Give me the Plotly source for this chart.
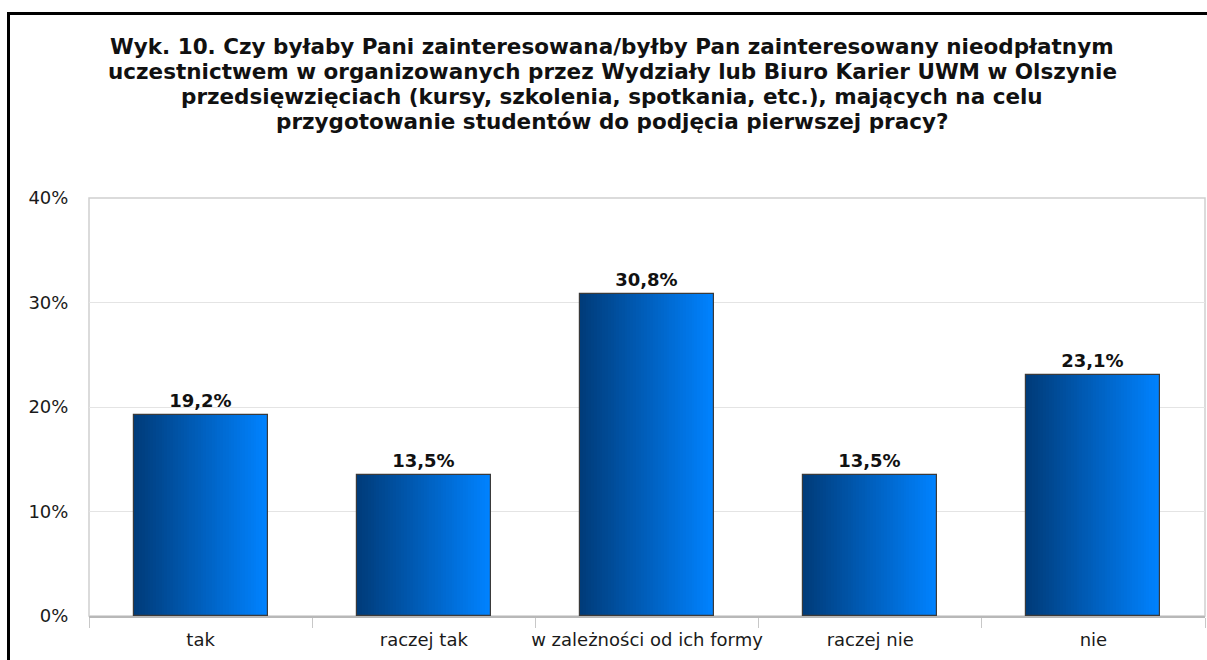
import plotly.graph_objects as go

categories = ["tak", "raczej tak", "w zależności od ich formy", "raczej nie", "nie"]
values = [19.2, 13.5, 30.8, 13.5, 23.1]
value_labels = ["19,2%", "13,5%", "30,8%", "13,5%", "23,1%"]
y_ticks = [0, 10, 20, 30, 40]
title_lines = [
    "Wyk. 10. Czy byłaby Pani zainteresowana/byłby Pan zainteresowany nieodpłatnym",
    "uczestnictwem w organizowanych przez Wydziały lub Biuro Karier UWM w Olszynie",
    "przedsięwzięciach (kursy, szkolenia, spotkania, etc.), mających na celu",
    "przygotowanie studentów do podjęcia pierwszej pracy?",
]

W, H = 1207, 660
L, R, T, B = 89, 2, 198, 44
pw, ph = W - L - R, H - T - B
FONT = "DejaVu Sans, Verdana, sans-serif"

bar_w = 0.6
n_slices = 48
c0 = (0, 60, 122)
c1 = (0, 130, 255)

fig = go.Figure()
step = bar_w / n_slices
for i in range(n_slices):
    f = i / (n_slices - 1)
    col = "rgb({},{},{})".format(*[round(a + (b - a) * f) for a, b in zip(c0, c1)])
    fig.add_trace(go.Bar(
        x=categories, y=values,
        width=step * 1.6 if i < n_slices - 1 else step,
        offset=-bar_w / 2 + i * step,
        marker=dict(color=col, line=dict(width=0)),
        hoverinfo="skip", showlegend=False,
    ))

fig.add_trace(go.Bar(
    x=categories, y=values, width=bar_w, offset=-bar_w / 2,
    marker=dict(color="rgba(0,0,0,0)", line=dict(color="#3a3a3a", width=1.2)),
    text=value_labels, textposition="outside", cliponaxis=False,
    textfont=dict(family=FONT, size=18, color="#111"),
    texttemplate="<b>%{text}</b>",
    showlegend=False,
))

def px_x(px):
    return (px - L) / pw

def px_y(py):
    return (H - B - py) / ph

shapes = [
    dict(type="line", xref="paper", yref="paper", x0=px_x(7), x1=px_x(1210),
         y0=px_y(13.5), y1=px_y(13.5), line=dict(color="black", width=3)),
    dict(type="line", xref="paper", yref="paper", x0=px_x(8.5), x1=px_x(8.5),
         y0=px_y(12), y1=px_y(665), line=dict(color="black", width=3)),
    dict(type="rect", xref="paper", yref="paper", x0=0, x1=1, y0=0, y1=1,
         line=dict(color="#d0d0d0", width=1.5), layer="below"),
]

annotations = []
line_y0 = 46
for k, line in enumerate(title_lines):
    annotations.append(dict(
        text="<b>" + line + "</b>", xref="paper", yref="paper",
        x=px_x(612), y=px_y(line_y0 + 25.3 * k), xanchor="center", yanchor="middle",
        showarrow=False,
        font=dict(family=FONT, size=21.5, color="#111"),
    ))

fig.update_layout(
    width=W, height=H, autosize=False,
    margin=dict(l=L, r=R, t=T, b=B, pad=0, autoexpand=False),
    paper_bgcolor="white", plot_bgcolor="white",
    barmode="overlay", bargap=0,
    shapes=shapes, annotations=annotations,
    font=dict(family=FONT, size=18, color="#222"),
    xaxis=dict(
        type="category", categoryorder="array", categoryarray=categories,
        tickson="boundaries", ticks="outside", ticklen=10, tickcolor="#c8c8c8",
        showline=True, linecolor="#b8b8b8", linewidth=1.5,
        showgrid=False, tickfont=dict(family=FONT, size=18, color="#1a1a1a"),
        tickangle=0, automargin=False, ticklabelstandoff=7,
        fixedrange=True,
    ),
    yaxis=dict(
        range=[0, 40], tickvals=y_ticks, ticktext=[f"{v}%" for v in y_ticks],
        showgrid=True, gridcolor="#e4e4e4", gridwidth=1.2,
        ticks="outside", ticklen=16, tickcolor="rgba(0,0,0,0)",
        showline=False, zeroline=False, automargin=False,
        tickfont=dict(family=FONT, size=18, color="#1a1a1a"),
        fixedrange=True,
    ),
)

post = (
    "document.body.style.margin='0';document.body.style.padding='0';"
    "document.body.style.overflow='hidden';"
    "Plotly.relayout('{plot_id}', {width: %d, height: %d});" % (W, H)
)

fig.write_html("out.html", config={"responsive": False, "displayModeBar": False},
               post_script=post)
